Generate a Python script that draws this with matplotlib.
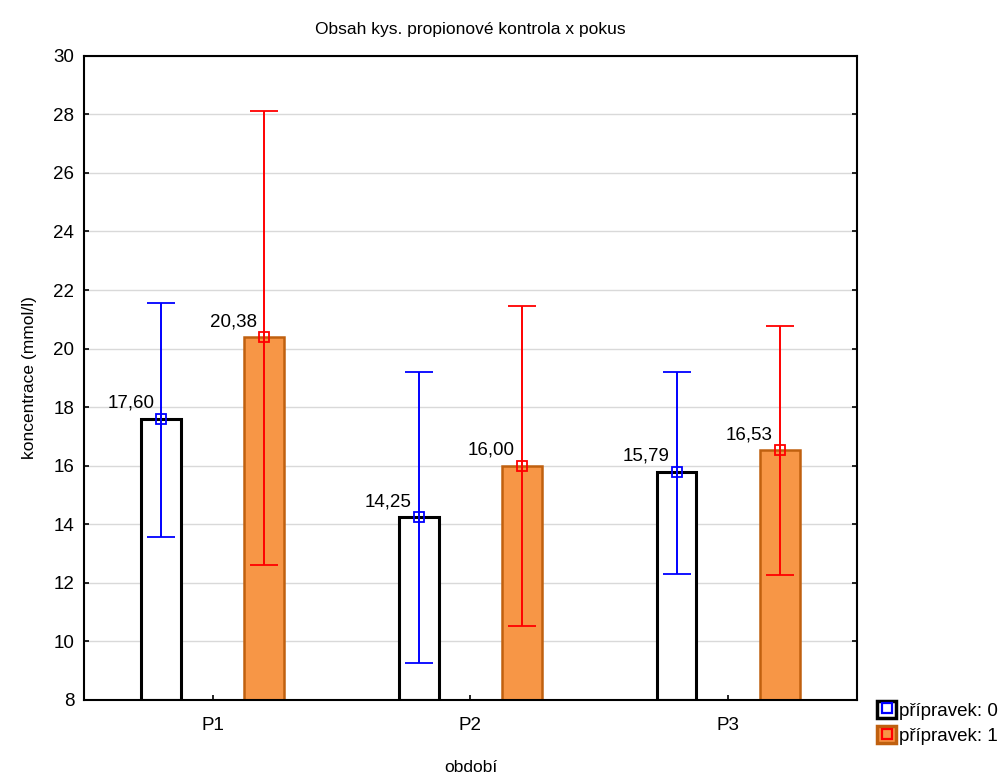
import numpy as np
import matplotlib.pyplot as plt
from matplotlib.patches import Patch
from matplotlib.lines import Line2D
from matplotlib.legend_handler import HandlerTuple

plt.rcParams["font.family"] = ["Liberation Sans", "DejaVu Sans"]

periods = ["P1", "P2", "P3"]
mean_0 = [17.60, 14.25, 15.79]
mean_1 = [20.38, 16.00, 16.53]
low_0 = [13.58, 9.26, 12.31]
high_0 = [21.57, 19.19, 19.21]
low_1 = [12.60, 10.51, 12.26]
high_1 = [28.13, 21.47, 20.76]

ORANGE = "#F79646"
ORANGE_EDGE = "#C0600F"

x = np.arange(1, len(periods) + 1)
offset = 0.2
width = 0.155

fig = plt.figure(figsize=(10.05, 7.78), dpi=100)
ax = fig.add_axes([0.0836, 0.1003, 0.769, 0.828])

ax.bar(x - offset, np.array(mean_0) - 8, width, bottom=8, color="white",
       edgecolor="black", linewidth=2.2, zorder=2)
ax.bar(x + offset, np.array(mean_1) - 8, width, bottom=8, color=ORANGE,
       edgecolor=ORANGE_EDGE, linewidth=1.8, zorder=2)

for xs, m, lo, hi, col in [
    (x - offset, mean_0, low_0, high_0, "blue"),
    (x + offset, mean_1, low_1, high_1, "red"),
]:
    m = np.array(m)
    yerr = [m - np.array(lo), np.array(hi) - m]
    ax.errorbar(xs, m, yerr=yerr, fmt="s", color=col, mfc="none", mec=col,
                ms=7, mew=1.3, ecolor=col, elinewidth=1.4, capsize=10,
                capthick=1.6, zorder=3)
    for xi, mi in zip(xs, m):
        ax.annotate(f"{mi:.2f}".replace(".", ","), (xi, mi),
                    xytext=(-5, 5), textcoords="offset points",
                    ha="right", va="bottom", fontsize=13.5)

ax.set_xlim(0.5, 3.5)
ax.set_ylim(8, 30)
ax.set_yticks(range(8, 31, 2))
ax.set_xticks(x)
ax.set_xticklabels(periods)
ax.tick_params(axis="both", direction="in", length=3.5, width=1.2,
               labelsize=13.5, pad=7)
ax.tick_params(axis="x", pad=12)
ax.tick_params(axis="y", right=True)
ax.yaxis.grid(True, color="#d9d9d9", linewidth=1)
ax.set_axisbelow(True)
for s in ax.spines.values():
    s.set_linewidth(1.5)

ax.set_title("Obsah kys. propionové kontrola x pokus", fontsize=12.5, pad=16)
ax.set_xlabel("období", fontsize=12.5, labelpad=19)
ax.set_ylabel("koncentrace (mmol/l)", fontsize=12.5, labelpad=12)

h0 = (Patch(facecolor="white", edgecolor="black", linewidth=2.5),
      Line2D([], [], marker="s", ls="none", mfc="none", mec="blue", ms=7, mew=1.6))
h1 = (Patch(facecolor=ORANGE, edgecolor=ORANGE_EDGE, linewidth=2.5),
      Line2D([], [], marker="s", ls="none", mfc="none", mec="red", ms=7, mew=1.6))
fig.legend([h0, h1], ["přípravek: 0", "přípravek: 1"],
           handler_map={tuple: HandlerTuple(ndivide=1, pad=0)},
           loc="upper left", bbox_to_anchor=(0.873, 0.099), frameon=False,
           fontsize=13.5, handlelength=1.0, handleheight=1.0, handletextpad=0.15,
           labelspacing=0.35, borderpad=0, borderaxespad=0)

fig.savefig("out.png", dpi=100)
